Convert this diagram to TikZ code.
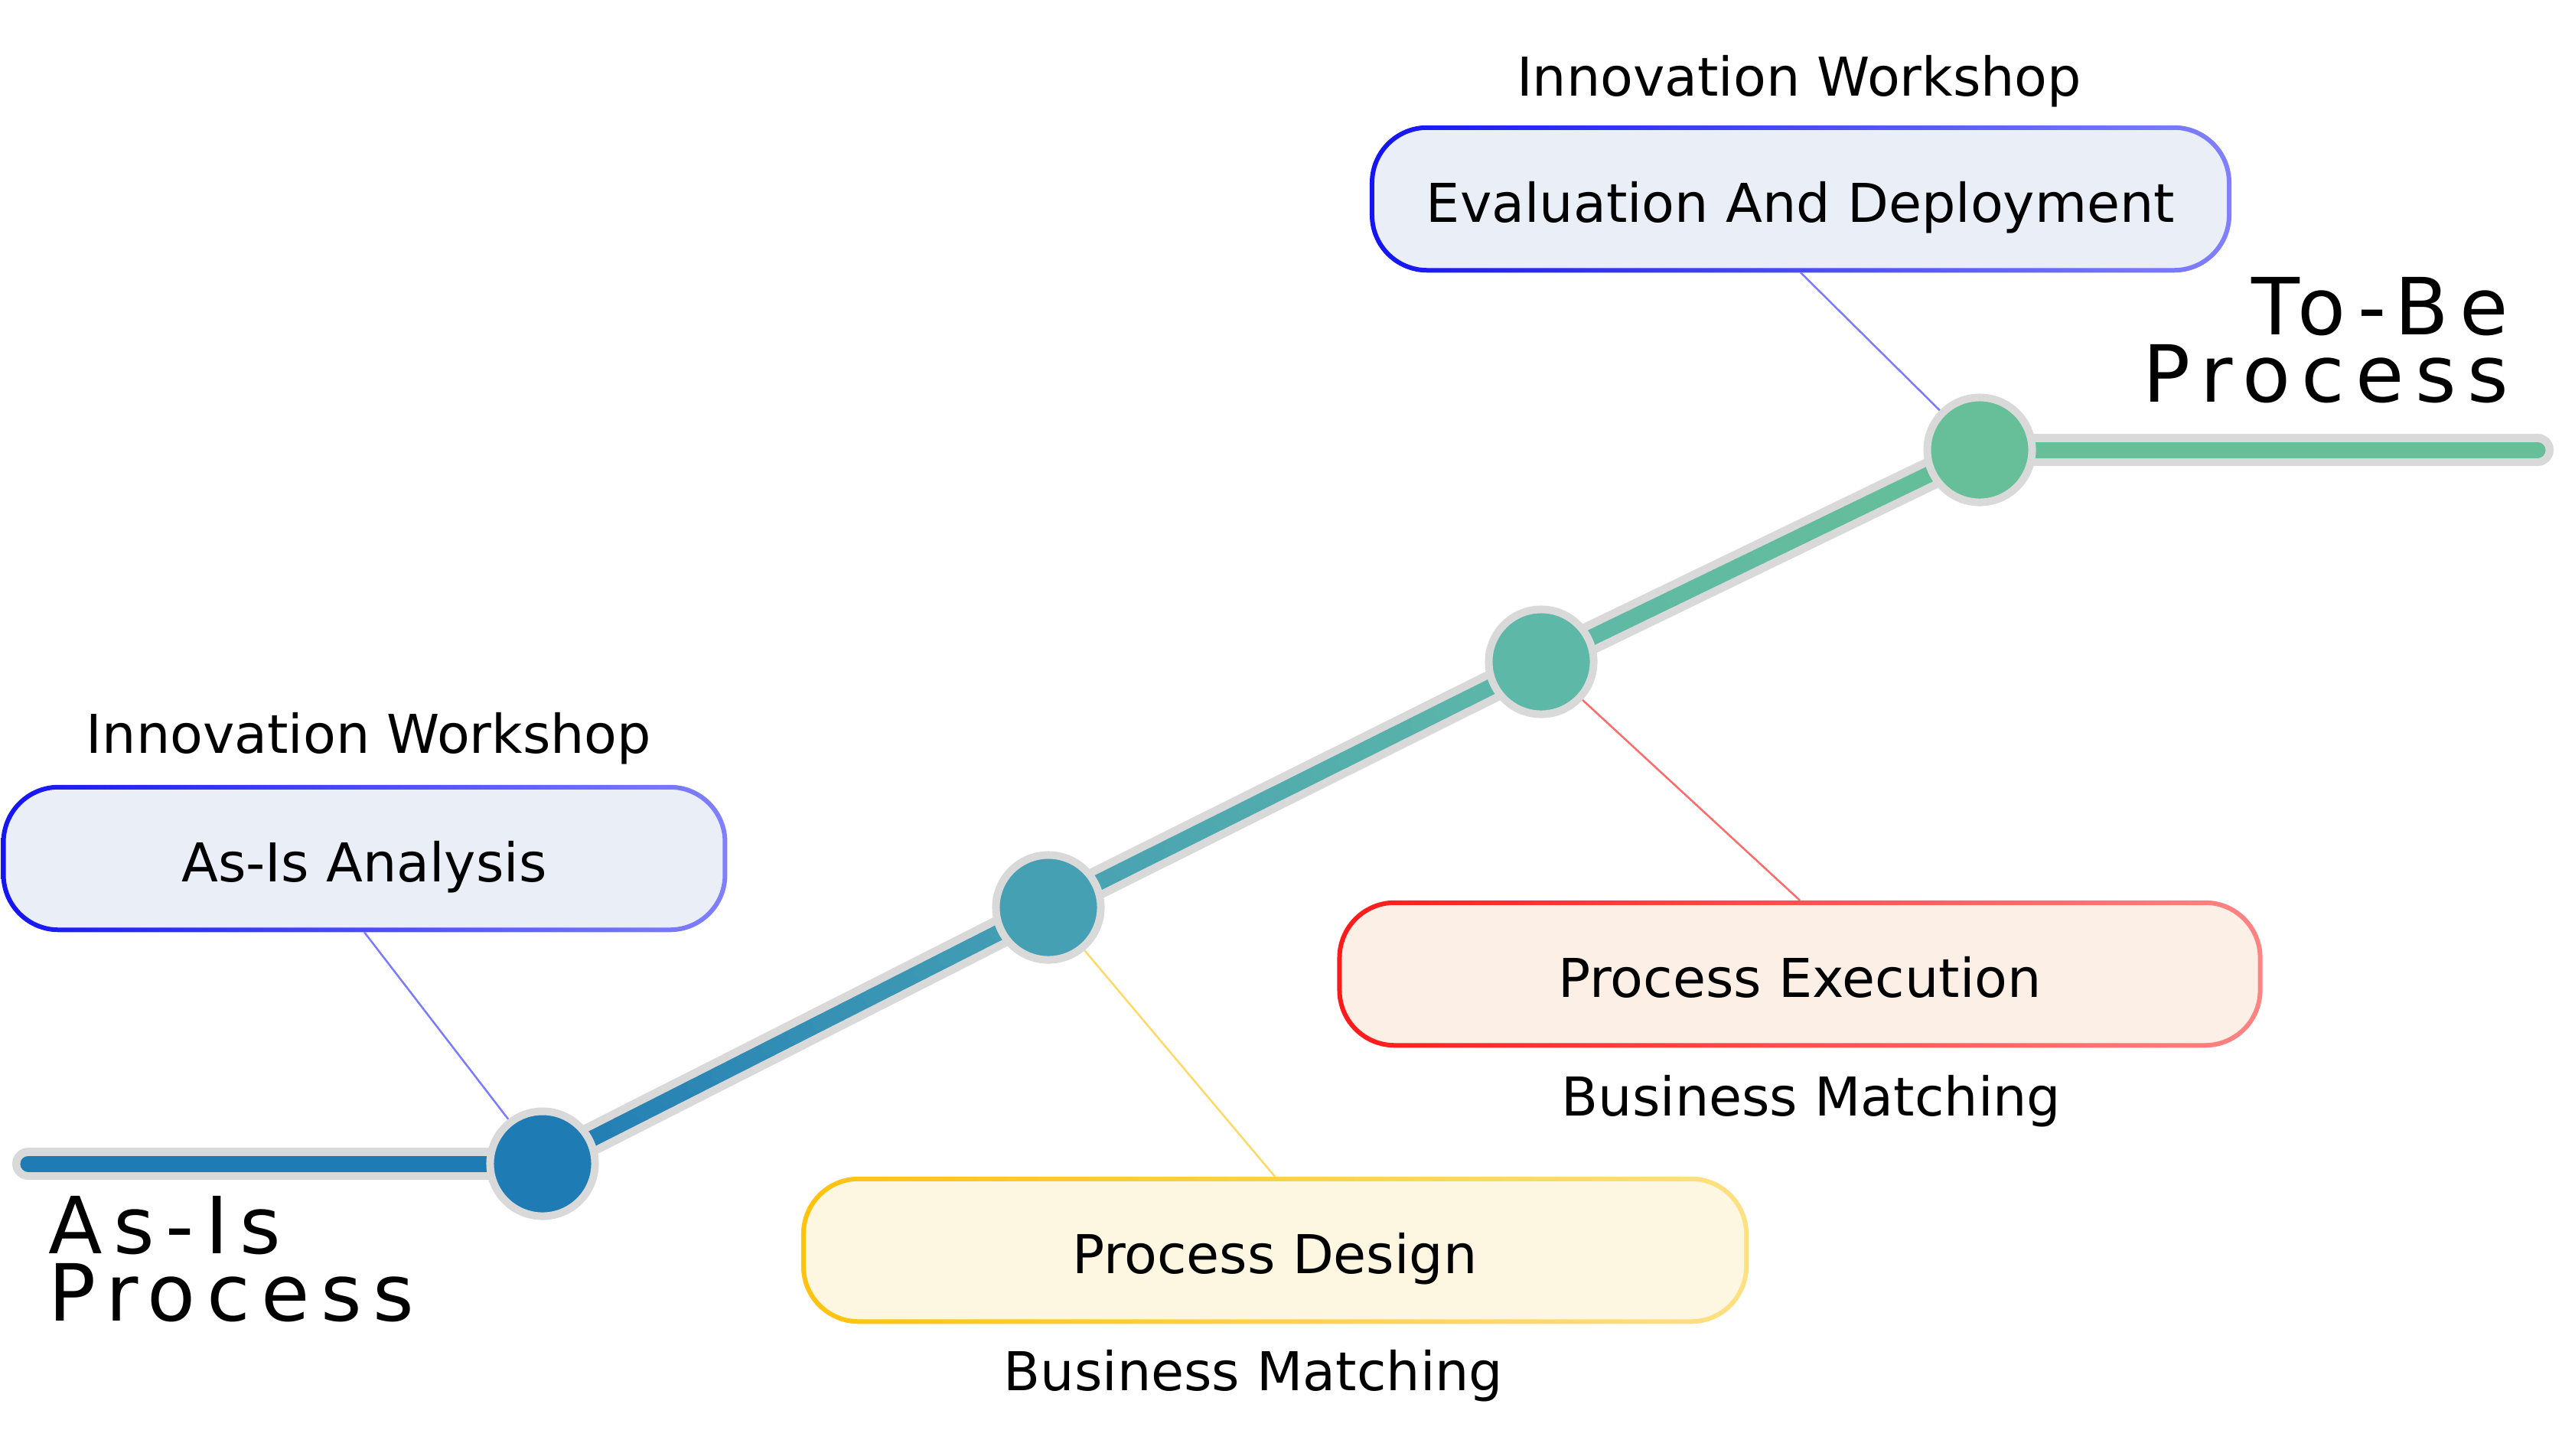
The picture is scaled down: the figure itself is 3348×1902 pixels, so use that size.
\documentclass[tikz,border=0pt]{standalone}
\usepackage{fontspec}
\setmainfont{DejaVu Sans}
\newfontfamily\spacedfont[LetterSpace=14]{DejaVu Sans}
\usetikzlibrary{calc}

% rail colours
\definecolor{stopA}{HTML}{1F7BB4}
\definecolor{stopB}{HTML}{46A0B3}
\definecolor{stopC}{HTML}{5EB8A7}
\definecolor{stopD}{HTML}{66BF98}
\definecolor{railgray}{HTML}{D9D9D9}
% box colours
\definecolor{blueFill}{HTML}{EAEEF7}
\definecolor{redFill}{HTML}{FCEFE6}
\definecolor{goldFill}{HTML}{FDF6E1}
\definecolor{blueEdgeL}{HTML}{1414F5}
\definecolor{blueEdgeR}{HTML}{8080FF}
\definecolor{redEdgeL}{HTML}{FF1A1A}
\definecolor{redEdgeR}{HTML}{FF8484}
\definecolor{goldEdgeL}{HTML}{FFC20E}
\definecolor{goldEdgeR}{HTML}{FFE083}
\definecolor{blueLink}{HTML}{7B7BFF}
\definecolor{redLink}{HTML}{FF6A6A}
\definecolor{goldLink}{HTML}{FFD966}

\newcommand{\labelsize}{\fontsize{19.9}{24}\selectfont}
\newcommand{\bigsize}{\spacedfont\fontsize{29.3}{25}\selectfont}
% gradient outline of a box
\newcommand{\edgeshade}[3]{%
  \shade[left color=#2,right color=#3,even odd rule]
    [rounded corners=0.75cm] (#1.south west) rectangle (#1.north east)
    [rounded corners=0.69cm] ([shift={(6,-6)}]#1.south west) rectangle ([shift={(-6,6)}]#1.north east);}

\begin{document}
\begin{tikzpicture}[x=0.01cm,y=-0.01cm,
  rail/.style={line width=0.42cm,railgray,line cap=round,line join=round},
  track/.style={line width=0.21cm,line cap=round},
  stop/.style={circle,minimum size=1.37cm,inner sep=0pt,draw=railgray,line width=0.1cm},
  stepbox/.style={rectangle,rounded corners=0.75cm,inner sep=0pt,minimum height=1.91cm,
    text height=0.6cm,text depth=0pt,font=\labelsize},
  link/.style={line width=0.025cm},
  note/.style={anchor=base,inner sep=0pt,font=\labelsize},
  bigtag/.style={inner sep=0pt,font=\bigsize}]
  \useasboundingbox (0,0) rectangle (3348,1902);
  % Points on the rail
  \coordinate (lstart) at (37,1521);
  \coordinate (p1) at (709,1521);
  \coordinate (p2) at (1370,1186);
  \coordinate (p3) at (2014,865);
  \coordinate (p4) at (2587,588);
  \coordinate (rend) at (3316,588);
  % Step boxes
  \node[stepbox,fill=blueFill,minimum width=9.47cm] (asis) at (476,1122) {As-Is Analysis};
  \edgeshade{asis}{blueEdgeL}{blueEdgeR}
  \node[stepbox,fill=blueFill,minimum width=11.24cm] (evaldep) at (2353,260) {Evaluation And Deployment};
  \edgeshade{evaldep}{blueEdgeL}{blueEdgeR}
  \node[stepbox,fill=redFill,minimum width=12.07cm] (procexec) at (2352,1273) {Process Execution};
  \edgeshade{procexec}{redEdgeL}{redEdgeR}
  \node[stepbox,fill=goldFill,minimum width=12.36cm] (procdesign) at (1666,1634) {Process Design};
  \edgeshade{procdesign}{goldEdgeL}{goldEdgeR}
  % Notes above / below the boxes
  \node[note] (asisws) at (482,984) {Innovation Workshop};
  \node[note] (evalws) at (2351,125) {Innovation Workshop};
  \node[note] (execbm) at (2367,1458) {Business Matching};
  \node[note] (designbm) at (1638,1817) {Business Matching};
  % Links from boxes to the rail
  \draw[link,blueLink] (asis.south) -- (p1);
  \draw[link,blueLink] (evaldep.south) -- (p4);
  \draw[link,redLink] (procexec.north) -- (p3);
  \draw[link,goldLink] (procdesign.north) -- (p2);
  % Rail
  \draw[rail] (lstart) -- (p1) -- (p2) -- (p3) -- (p4) -- (rend);
  \draw[track,stopA] (lstart) -- (p1);
  \draw[track,stopD] (p4) -- (rend);
  \foreach \a/\b/\ca/\cb in {p1/p2/stopA/stopB,p2/p3/stopB/stopC,p3/p4/stopC/stopD}
    \foreach \i in {1,...,20}{
      \pgfmathsetmacro\ta{(\i-1)/20}
      \pgfmathsetmacro\tb{\i/20}
      \pgfmathtruncatemacro\pc{5*\i-2}
      \draw[track,\cb!\pc!\ca] ($(\a)!\ta!(\b)$) -- ($(\a)!\tb!(\b)$);
    }
  % Stops
  \foreach \p/\c in {p1/stopA,p2/stopB,p3/stopC,p4/stopD}
    \node[stop,fill=\c] (dot\p) at (\p) {};
  % End tags
  \node[bigtag,anchor=north west,align=left] (asistag) at (63,1563) {As-Is\\Process};
  \node[bigtag,anchor=north east,align=right] (tobetag) at (3279,362) {To-Be\\Process};
\end{tikzpicture}
\end{document}
